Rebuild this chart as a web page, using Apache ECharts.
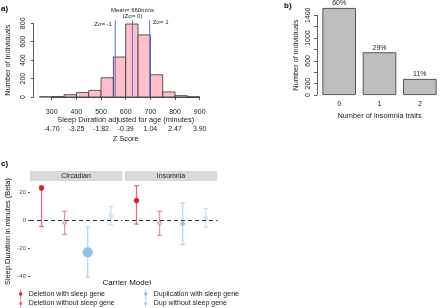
<!DOCTYPE html>
<html>
<head>
<meta charset="utf-8">
<script src="https://cdn.jsdelivr.net/npm/echarts@6/dist/echarts.min.js"></script>
<style>
  html, body { margin: 0; padding: 0; background: #fff; }
  #chart { width: 440px; height: 308px; }
</style>
</head>
<body>
<div id="chart"></div>
<script>
// a) histogram of age adjusted sleep duration
const binStarts = [250, 300, 350, 400, 450, 500, 550, 600, 650, 700, 750, 800, 850]
const binWidth = 50
const binCounts = [2, 4, 25, 48, 72, 209, 434, 792, 674, 241, 55, 15, 2]
const minuteTicks = [300, 400, 500, 600, 700, 800, 900]
const zScoreLabels = ["-4.70", "-3.25", "-1.82", "-0.39", "1.04", "2.47", "3.90"]
const zLinePos = [557.4, 627.3, 697.2]
const zLineLabels = ["Zσ= -1", "Mean= 660mins\n(Zσ= 0)", "Zσ= 1"]

// b) insomnia traits
const traitCats = ["0", "1", "2"]
const traitCounts = [1528, 750, 281]
const traitPct = ["60%", "29%", "11%"]
const traitLabelTicks = [0, 200, 600, 1000, 1400]

// c) carrier models
const carrierModels = ["Deletion with sleep gene", "Deletion without sleep gene", "Duplication with sleep gene", "Dup without sleep gene"]
const facets = ["Circadian", "Insomnia"]
const circadianBeta = [23.1, -1.6, -22.8, 3.3]
const circadianLow = [-4.3, -10, -40.6, -3.1]
const circadianHigh = [24.7, 6.4, -4.7, 10]
const circadianWeight = [2.3, 1.8, 4.8, 1.8]
const insomniaBeta = [14.2, -1.9, -2.3, 1.9]
const insomniaLow = [-2.6, -10.7, -17.3, -4.7]
const insomniaHigh = [24.9, 6.4, 12.4, 8.5]
const insomniaWeight = [2.4, 1.8, 2.0, 1.8]
const betaTicks = [20, 0, -20, -40]

const FONT = "Liberation Sans, Arial, sans-serif"
const modelStyle = [
  { bar: "#e0707a", dot: "#d4202c", stroke: "#d4202c" },
  { bar: "#ec939a", dot: "#f7c6c9", stroke: "#e57b83" },
  { bar: "#b5d9ec", dot: "#8ec4e0", stroke: "#8ec4e0" },
  { bar: "#c8e3f4", dot: "#e3f1fa", stroke: "#a8d1ec" },
]
const legendIcon = "path://M2.6,0h0.8v10h-0.8z M1.1,5a1.9,1.9 0 1,1 3.8,0a1.9,1.9 0 1,1 -3.8,0z"

const chart = echarts.init(document.getElementById("chart"))

function facetSeries(f, beta, low, high, weight) {
  return carrierModels.map((m, i) => ({
    type: "custom",
    name: m,
    xAxisIndex: 4 + f,
    yAxisIndex: 3 + f,
    itemStyle: { color: modelStyle[i].stroke },
    encode: { x: 0, y: [1, 2, 3] },
    data: [[i, beta[i], low[i], high[i], weight[i]]],
    renderItem: (params, api) => {
      const x = api.value(0)
      const pB = api.coord([x, api.value(1)])
      const pL = api.coord([x, api.value(2)])
      const pH = api.coord([x, api.value(3)])
      const r = api.value(4)
      const s = modelStyle[i]
      const lw = { stroke: s.bar, lineWidth: 1.3 }
      return {
        type: "group",
        children: [
          { type: "line", shape: { x1: pL[0], y1: pL[1], x2: pH[0], y2: pH[1] }, style: lw },
          { type: "line", shape: { x1: pL[0] - 2.4, y1: pL[1], x2: pL[0] + 2.4, y2: pL[1] }, style: lw },
          { type: "line", shape: { x1: pH[0] - 2.4, y1: pH[1], x2: pH[0] + 2.4, y2: pH[1] }, style: lw },
          { type: "circle", shape: { cx: pB[0], cy: pB[1], r: r }, style: { fill: s.dot, stroke: s.stroke, lineWidth: 0.8 } },
        ],
      }
    },
    markLine: i === 0 ? {
      silent: true,
      symbol: "none",
      label: { show: false },
      lineStyle: { color: "#333", type: [4, 3], width: 1.2 },
      data: [{ yAxis: 0 }],
    } : undefined,
    z: i === 0 ? 1 : 2,
  }))
}

const axisText = { fontFamily: FONT, fontSize: 7, color: "#222" }
const legendBase = {
  top: 284.5, height: 24, orient: "vertical", itemGap: 0.5, itemWidth: 6, itemHeight: 9,
  icon: legendIcon, textStyle: { fontFamily: FONT, fontSize: 7, color: "#222" },
}

chart.setOption({
  animation: false,
  textStyle: { fontFamily: FONT },
  grid: [
    { left: 35.7, top: 23.3, width: 164, height: 73.7 },
    { left: 51.7, top: 23.3, width: 148, height: 73.7 },
    { left: 319, top: 15.3, width: 124, height: 79.7 },
    { left: 30, top: 181, width: 92.3, height: 101 },
    { left: 125, top: 181, width: 92.3, height: 101 },
  ],
  xAxis: [
    { gridIndex: 0, type: "value", min: 235, max: 900, show: false },
    {
      gridIndex: 1, type: "value", position: "bottom", min: 300, max: 900, interval: 100, offset: 2,
      axisLine: { lineStyle: { color: "#333", width: 0.8 } },
      axisTick: { length: 3, lineStyle: { color: "#333", width: 0.8 } },
      axisLabel: { ...axisText, margin: 10 },
      splitLine: { show: false },
      name: "Sleep Duration adjusted for age (minutes)",
      nameLocation: "middle", nameGap: 17,
      nameTextStyle: { ...axisText, fontSize: 7.4 },
    },
    {
      gridIndex: 1, type: "value", position: "bottom", min: 300, max: 900, interval: 100, offset: 2,
      axisLine: { show: false }, axisTick: { show: false },
      axisLabel: { ...axisText, margin: 27, formatter: (v) => zScoreLabels[minuteTicks.indexOf(v)] },
      splitLine: { show: false },
      name: "Z Score", nameLocation: "middle", nameGap: 36,
      nameTextStyle: { ...axisText, fontSize: 7.4 },
    },
    {
      gridIndex: 2, type: "category", data: traitCats,
      axisLine: { show: false }, axisTick: { show: false },
      axisLabel: { ...axisText, margin: 6 },
      name: "Number of insomnia traits", nameLocation: "middle", nameGap: 17,
      nameTextStyle: { ...axisText, fontSize: 7.4 },
    },
    { gridIndex: 3, type: "category", data: carrierModels, show: false },
    { gridIndex: 4, type: "category", data: carrierModels, show: false },
  ],
  yAxis: [
    {
      gridIndex: 0, type: "value", min: 0, max: 800, interval: 200, offset: 2,
      axisLine: { show: true, lineStyle: { color: "#333", width: 0.8 } },
      axisTick: { show: true, length: 3, lineStyle: { color: "#333", width: 0.8 } },
      axisLabel: { ...axisText, rotate: 90, margin: 7 },
      splitLine: { show: false },
      name: "Number of individuals", nameLocation: "middle", nameGap: 22,
      nameTextStyle: { ...axisText, fontSize: 7.4 },
    },
    { gridIndex: 1, type: "value", min: 0, max: 800, show: false },
    {
      gridIndex: 2, type: "value", min: 0, max: 1400, interval: 200, offset: 2,
      axisLine: { show: true, lineStyle: { color: "#333", width: 0.8 } },
      axisTick: { show: true, length: 3, lineStyle: { color: "#333", width: 0.8 } },
      axisLabel: { ...axisText, rotate: 90, margin: 5, customValues: traitLabelTicks, formatter: (v) => String(v) },
      splitLine: { show: false },
      name: "Number of individuals", nameLocation: "middle", nameGap: 18,
      nameTextStyle: { ...axisText, fontSize: 7.4 },
    },
    {
      gridIndex: 3, type: "value", min: -44, max: 28.2,
      axisLine: { show: false },
      axisTick: { show: true, length: 2, customValues: betaTicks, lineStyle: { color: "#555" } },
      axisLabel: { fontFamily: FONT, fontSize: 6, color: "#4d4d4d", margin: 4, customValues: betaTicks },
      splitLine: { show: false },
      name: "Sleep Duration in minutes (Beta)", nameLocation: "middle", nameGap: 19,
      nameTextStyle: { ...axisText, fontSize: 7.4, color: "#111" },
    },
    { gridIndex: 4, type: "value", min: -44, max: 28.2, show: false },
  ],
  legend: [
    { ...legendBase, left: 14, data: carrierModels.slice(0, 2) },
    { ...legendBase, left: 139, data: carrierModels.slice(2) },
  ],
  graphic: [
    { type: "text", left: 1, top: 5, style: { text: "a)", font: "bold 8px " + FONT, fill: "#000" } },
    { type: "text", left: 284, top: 2, style: { text: "b)", font: "bold 8px " + FONT, fill: "#000" } },
    { type: "text", left: 1, top: 160, style: { text: "c)", font: "bold 8px " + FONT, fill: "#000" } },
    ...facets.map((f, k) => ({
      type: "group", left: k === 0 ? 30 : 125, top: 171,
      children: [
        { type: "rect", shape: { x: 0, y: 0, width: 92.3, height: 10 }, style: { fill: "#d9d9d9" } },
        { type: "text", x: 46, y: 5, style: { text: f, font: "7px " + FONT, fill: "#1a1a1a", align: "center", verticalAlign: "middle" } },
      ],
    })),
    { type: "text", x: 126.7, y: 283, style: { text: "Carrier Model", font: "8px " + FONT, fill: "#111", align: "center", verticalAlign: "middle" } },
  ],
  series: [
    {
      type: "custom",
      xAxisIndex: 0, yAxisIndex: 0,
      data: binStarts.map((s, i) => [s, s + binWidth, binCounts[i]]),
      renderItem: (params, api) => {
        const p0 = api.coord([api.value(0), api.value(2)])
        const p1 = api.coord([api.value(1), 0])
        return {
          type: "rect",
          shape: { x: p0[0], y: p0[1], width: p1[0] - p0[0], height: p1[1] - p0[1] },
          style: { fill: "#ffc0cb", stroke: "#333", lineWidth: 0.8 },
        }
      },
    },
    {
      type: "custom",
      xAxisIndex: 0, yAxisIndex: 0,
      data: zLinePos.map((v) => [v]),
      z: 3,
      renderItem: (params, api) => {
        const i = params.dataIndex
        const pBot = api.coord([api.value(0), 0])
        const pTop = api.coord([api.value(0), 800])
        const top = pTop[1] - 3
        const align = ["right", "center", "left"][i]
        const dx = [-3, 0, 3][i]
        const ty = [top + 4, top - 7, top + 2][i]
        return {
          type: "group",
          children: [
            { type: "line", shape: { x1: pBot[0], y1: pBot[1], x2: pBot[0], y2: top }, style: { stroke: "#5b6fd3", lineWidth: 1 } },
            {
              type: "text", x: pBot[0] + dx, y: ty,
              style: { text: zLineLabels[i], font: "6px " + FONT, fill: "#222", align: align, verticalAlign: "middle", lineHeight: 6.5 },
            },
          ],
        }
      },
    },
    {
      type: "bar",
      xAxisIndex: 3, yAxisIndex: 2,
      data: traitCounts,
      barWidth: "83%",
      clip: false,
      itemStyle: { color: "#bebebe", borderColor: "#333", borderWidth: 0.8 },
      label: {
        show: true, position: "top", distance: 1,
        fontFamily: FONT, fontSize: 7, color: "#222",
        formatter: (p) => traitPct[p.dataIndex],
      },
    },
    ...facetSeries(0, circadianBeta, circadianLow, circadianHigh, circadianWeight),
    ...facetSeries(1, insomniaBeta, insomniaLow, insomniaHigh, insomniaWeight),
  ],
})
</script>
</body>
</html>
